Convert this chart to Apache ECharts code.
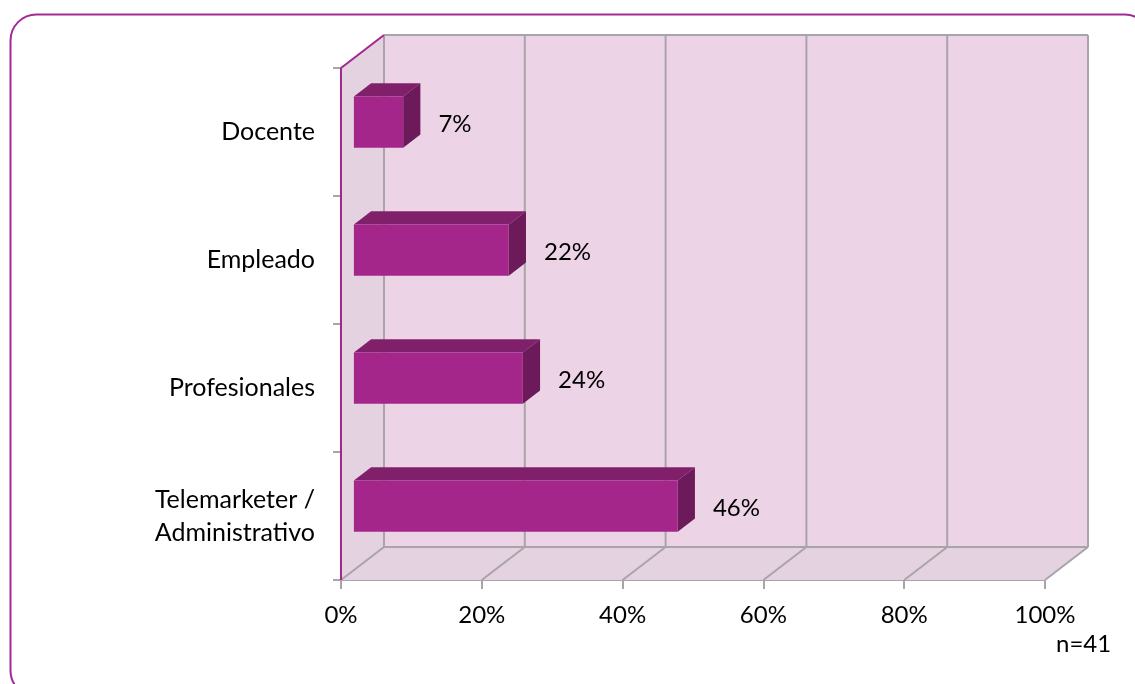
<!DOCTYPE html>
<html>
<head>
<meta charset="utf-8">
<script src="https://cdn.jsdelivr.net/npm/echarts@6/dist/echarts.min.js"></script>
<style>
  html, body { margin: 0; padding: 0; background: #ffffff; }
  #chart { width: 1135px; height: 684px; }
</style>
</head>
<body>
<div id="chart"></div>
<script>
// Occupation categories (top to bottom) and their share of respondents
const categories = ['Docente', 'Empleado', 'Profesionales', 'Telemarketer /\nAdministrativo'];
const shares = [7, 22, 24, 46];
const xTicks = [0, 20, 40, 60, 80, 100];
const sampleNote = 'n=41';

// Oblique depth of the 3D box (pixels) and where the bars sit within it
const DEPTH_X = 43, DEPTH_Y = -33;
const BAR_FRONT = 0.3, BAR_BACK = 0.7;

const FONT = 'Lato, "Noto Sans", sans-serif';
const GRID_COLOR = '#a8a4a8';
const EDGE_COLOR = '#a3268e';

const chart = echarts.init(document.getElementById('chart'), null, { renderer: 'canvas' });

function renderBox(params, api) {
  const cs = params.coordSys;
  const x0 = api.coord([0, 0])[0];
  const x1 = api.coord([100, 0])[0];
  const top = cs.y, bot = cs.y + cs.height;
  const children = [];
  // back wall
  children.push({ type: 'rect', shape: { x: x0 + DEPTH_X, y: top + DEPTH_Y, width: x1 - x0, height: bot - top },
    style: { fill: '#edd3e6' } });
  // side wall
  children.push({ type: 'polygon', shape: { points: [[x0, top], [x0 + DEPTH_X, top + DEPTH_Y], [x0 + DEPTH_X, bot + DEPTH_Y], [x0, bot]] },
    style: { fill: '#e4d2e1' } });
  // floor
  children.push({ type: 'polygon', shape: { points: [[x0, bot], [x0 + DEPTH_X, bot + DEPTH_Y], [x1 + DEPTH_X, bot + DEPTH_Y], [x1, bot]] },
    style: { fill: '#e4d2e1' } });
  const line = (a, b, color, w) => ({ type: 'line', shape: { x1: a[0], y1: a[1], x2: b[0], y2: b[1] },
    style: { stroke: color, lineWidth: w } });
  // grid lines on back wall and floor
  xTicks.forEach(v => {
    const xv = api.coord([v, 0])[0];
    children.push(line([xv + DEPTH_X, top + DEPTH_Y], [xv + DEPTH_X, bot + DEPTH_Y], GRID_COLOR, 2));
    children.push(line([xv, bot], [xv + DEPTH_X, bot + DEPTH_Y], GRID_COLOR, 2));
  });
  children.push(line([x0 + DEPTH_X, top + DEPTH_Y], [x1 + DEPTH_X, top + DEPTH_Y], GRID_COLOR, 2));
  children.push(line([x0 + DEPTH_X, bot + DEPTH_Y], [x1 + DEPTH_X, bot + DEPTH_Y], GRID_COLOR, 2));
  // side wall edges
  children.push(line([x0, top], [x0 + DEPTH_X, top + DEPTH_Y], EDGE_COLOR, 2));
  children.push(line([x0, top], [x0, bot], EDGE_COLOR, 2));
  return { type: 'group', children };
}

function renderBar(params, api) {
  const idx = api.value(1);
  const val = api.value(0);
  const base = api.coord([0, idx]);
  const end = api.coord([val, idx]);
  const bandH = api.size([0, 1])[1];
  const h = bandH * 0.4;
  const fx = DEPTH_X * BAR_FRONT, fy = DEPTH_Y * BAR_FRONT;
  const dx = DEPTH_X * (BAR_BACK - BAR_FRONT), dy = DEPTH_Y * (BAR_BACK - BAR_FRONT);
  const xl = base[0] + fx, xr = end[0] + fx;
  const cy = base[1] + fy;
  const yt = cy - h / 2, yb = cy + h / 2;
  return {
    type: 'group',
    children: [
      { type: 'polygon', shape: { points: [[xl, yt], [xl + dx, yt + dy], [xr + dx, yt + dy], [xr, yt]] },
        style: { fill: '#80206b' } },
      { type: 'polygon', shape: { points: [[xr, yt], [xr + dx, yt + dy], [xr + dx, yb + dy], [xr, yb]] },
        style: { fill: '#6c1a59' } },
      { type: 'rect', shape: { x: xl, y: yt, width: xr - xl, height: h },
        style: { fill: '#a4268a' } },
      { type: 'text', x: xr + dx + 18, y: cy + 2,
        style: { text: val + '%', font: '24px ' + FONT, fill: '#000', verticalAlign: 'middle', align: 'left' } }
    ]
  };
}

chart.setOption({
  animation: false,
  backgroundColor: '#ffffff',
  graphic: [
    { type: 'rect', left: 8, top: 12, shape: { width: 1140, height: 682, r: 26 },
      style: { fill: 'none', stroke: '#a22a96', lineWidth: 2 }, z: -10 },
    { type: 'text', left: 1056, top: 632,
      style: { text: sampleNote, font: '24px ' + FONT, fill: '#000' } }
  ],
  grid: { left: 341, right: 90, top: 68, bottom: 104, containLabel: false },
  xAxis: {
    type: 'value', min: 0, max: 100, interval: 20,
    axisLine: { show: true, lineStyle: { color: GRID_COLOR, width: 2 } },
    axisTick: { show: true, length: 9, lineStyle: { color: GRID_COLOR, width: 2 } },
    splitLine: { show: false },
    axisLabel: { formatter: '{value}%', fontSize: 24, fontFamily: FONT, color: '#000', margin: 23 }
  },
  yAxis: {
    type: 'category', data: categories, inverse: true,
    axisLine: { show: false },
    axisTick: { show: true, length: 8, lineStyle: { color: GRID_COLOR, width: 2 } },
    axisLabel: { fontSize: 25, fontFamily: FONT, color: '#000', margin: 26, lineHeight: 33, align: 'right' }
  },
  series: [
    { type: 'custom', name: 'box', renderItem: renderBox, data: [[0, 0]], z: 1, silent: true },
    { type: 'custom', name: 'Ocupación', renderItem: renderBar,
      data: shares.map((v, i) => [v, i]), encode: { x: 0, y: 1 }, z: 2 }
  ]
});
</script>
</body>
</html>
